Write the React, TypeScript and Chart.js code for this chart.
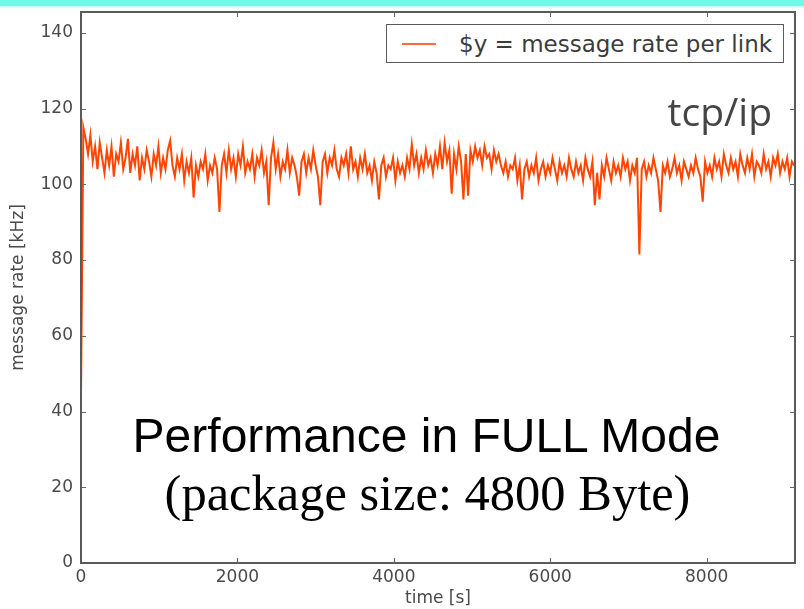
import React, { useEffect, useRef } from 'react';
import { Chart, registerables } from 'chart.js';

Chart.register(...registerables);

// sampling of the measured message rate
const SAMPLE_INTERVAL_S = 30;

// message rate per link [kHz], one value every SAMPLE_INTERVAL_S seconds from t = 0
const messageRate: number[] = [
  44, 115, 112, 108, 113, 106, 110, 104, 111, 107,
  103, 109, 105, 110, 102, 108, 106, 111, 104, 107,
  112, 103, 108, 105, 110, 101, 107, 104, 109, 106,
  102, 108, 105, 110, 103, 107, 104, 109, 111.5, 105,
  102, 107, 104, 108, 101, 106, 103, 107, 96.5, 105,
  102, 106, 104, 108, 101, 105, 103, 107, 104, 92.7,
  105, 108, 103, 109, 104, 107, 102, 108, 105, 110,
  103, 106, 104, 108, 102, 107, 105, 109, 103, 106,
  94.5, 107, 111, 104, 108, 102, 106, 104, 109, 103,
  107, 105, 102, 97, 106, 108, 103, 107, 104, 109,
  105, 102, 94.5, 106, 108, 103, 107, 105, 109, 104,
  102, 107, 105, 108, 103, 110, 104, 106, 102, 107,
  104, 108, 103, 105, 101, 106, 103, 96, 105, 107,
  102, 105, 104, 107, 101, 106, 103, 105, 102, 107,
  104, 110.5, 105, 108, 103, 107, 104, 109, 105, 107,
  103, 108, 105, 110, 104, 111, 106, 109, 97.5, 108,
  104, 110, 106, 96, 108, 97, 109, 106, 110, 107,
  109, 105, 110, 107, 108, 104, 109, 106, 108, 105,
  103, 106, 102, 105, 104, 107, 101, 105, 96, 104,
  106, 102, 105, 103, 107, 101, 104, 106, 102, 105,
  103, 107, 104, 101, 106, 103, 105, 102, 107, 104,
  102, 106, 103, 105, 101, 107, 104, 102, 106, 94.5,
  103, 96, 105, 102, 107, 104, 101, 106, 103, 105,
  102, 107, 104, 106, 101, 105, 103, 107, 81.5, 104,
  106, 102, 105, 103, 107, 104, 101, 92.7, 105, 103,
  106, 102, 104, 107, 103, 105, 101, 106, 104, 102,
  105, 103, 107, 104, 102, 95.4, 106, 103, 105, 102,
  107, 104, 106, 102, 108, 105, 103, 107, 104, 106,
  102, 108, 105, 103, 107, 104, 108, 102, 106, 105,
  103, 108, 104, 106, 102, 107, 105, 108, 103, 106,
  104, 107, 102, 106, 105,
];

const X_MAX = 9130;
const Y_MAX = 145.5;
const xTickValues = [0, 2000, 4000, 6000, 8000];
const yTickValues = [0, 20, 40, 60, 80, 100, 120, 140];

const seriesLabel = '$y = message rate per link';
const xTitle = 'time [s]';
const yTitle = 'message rate [kHz]';

const framePlugin = {
  id: 'frame',
  afterDatasetsDraw(chart: any) {
    const { ctx, chartArea, scales } = chart;
    const { left, right, top, bottom } = chartArea;
    const x = scales.x;
    const y = scales.y;
    ctx.save();
    ctx.strokeStyle = '#666';
    ctx.lineWidth = 1;
    ctx.beginPath();
    x.ticks.forEach((t: any) => {
      const px = Math.round(x.getPixelForValue(t.value)) + 0.5;
      ctx.moveTo(px, bottom);
      ctx.lineTo(px, bottom - 5);
      ctx.moveTo(px, top);
      ctx.lineTo(px, top + 5);
    });
    y.ticks.forEach((t: any) => {
      const py = Math.round(y.getPixelForValue(t.value)) + 0.5;
      ctx.moveTo(left, py);
      ctx.lineTo(left + 5, py);
      ctx.moveTo(right, py);
      ctx.lineTo(right - 5, py);
    });
    ctx.stroke();
    ctx.strokeStyle = '#5a5a5a';
    ctx.lineWidth = 2;
    ctx.strokeRect(left, top, right - left, bottom - top);
    ctx.restore();
  },
};

export default function App() {
  const canvasRef = useRef<HTMLCanvasElement | null>(null);

  useEffect(() => {
    if (!canvasRef.current) return;
    const data = messageRate.map((v, i) => ({ x: i * SAMPLE_INTERVAL_S, y: v }));
    const tickFont = { family: 'DejaVu Sans', size: 17 };
    const chart = new Chart(canvasRef.current, {
      type: 'line',
      data: {
        datasets: [
          {
            label: seriesLabel,
            data,
            borderColor: '#ff4500',
            borderWidth: 2,
            pointRadius: 0,
            tension: 0,
          },
        ],
      },
      options: {
        animation: false,
        responsive: true,
        maintainAspectRatio: false,
        layout: { padding: { top: 12, right: 9, left: 8, bottom: 0 } },
        plugins: { legend: { display: false }, tooltip: { enabled: false } },
        scales: {
          x: {
            type: 'linear',
            min: 0,
            max: X_MAX,
            grid: { display: false, drawTicks: false },
            border: { display: false },
            afterBuildTicks(scale: any) {
              scale.ticks = xTickValues.map((v) => ({ value: v }));
            },
            ticks: {
              color: '#4a4a4a',
              font: tickFont,
              padding: 4,
              maxRotation: 0,
              autoSkip: false,
              callback: (v: any) => String(v),
            },
            title: {
              display: true,
              text: xTitle,
              color: '#4a4a4a',
              font: tickFont,
              padding: { top: 3, bottom: 0 },
            },
            afterFit(scale: any) {
              scale.height = 46;
              scale.paddingLeft = 0;
              scale.paddingRight = 0;
            },
          },
          y: {
            type: 'linear',
            min: 0,
            max: Y_MAX,
            grid: { display: false, drawTicks: false },
            border: { display: false },
            afterBuildTicks(scale: any) {
              scale.ticks = yTickValues.map((v) => ({ value: v }));
            },
            ticks: {
              color: '#4a4a4a',
              font: tickFont,
              padding: 8,
              autoSkip: false,
              callback: (v: any) => String(v),
            },
            title: {
              display: true,
              text: yTitle,
              color: '#4a4a4a',
              font: tickFont,
              padding: { top: 0, bottom: 4 },
            },
            afterFit(scale: any) {
              scale.width = 73;
              scale.paddingTop = 0;
              scale.paddingBottom = 0;
            },
          },
        },
      },
      plugins: [framePlugin],
    });
    return () => chart.destroy();
  }, []);

  return (
    <div style={{ position: 'fixed', left: 0, top: 0, width: 804, height: 609, background: '#fff', overflow: 'hidden' }}>
      <canvas ref={canvasRef} style={{ position: 'absolute', left: 0, top: 0 }} />
      <div style={{ position: 'absolute', left: 0, top: 0, width: 804, height: 6, background: '#76f7e6' }} />
      <div style={{ position: 'absolute', left: 0, top: 6, width: 804, height: 3, background: 'linear-gradient(#b6fbf2, #ffffff)' }} />
      <div
        style={{
          position: 'absolute', left: 386, top: 24, width: 398, height: 39,
          border: '1.5px solid #5a5a5a', background: '#fff', boxSizing: 'border-box',
          display: 'flex', alignItems: 'center',
        }}
      >
        <div style={{ marginLeft: 15, width: 34, height: 2, background: '#ff6a3a' }} />
        <span style={{ marginLeft: 23, fontFamily: 'DejaVu Sans', fontSize: 23, color: '#3c3c3c', whiteSpace: 'nowrap' }}>
          {seriesLabel}
        </span>
      </div>
      <div style={{ position: 'absolute', right: 32, top: 91, fontFamily: '"Open Sans"', fontSize: 39, color: '#444', lineHeight: 1 }}>
        tcp/ip
      </div>
      <div style={{ position: 'absolute', left: 0, width: 853, top: 412, textAlign: 'center', fontFamily: '"Liberation Sans"', fontSize: 48, color: '#000', lineHeight: 1, whiteSpace: 'nowrap' }}>
        Performance in FULL Mode
      </div>
      <div style={{ position: 'absolute', left: 0, width: 855, top: 468, textAlign: 'center', fontFamily: '"Liberation Serif"', fontSize: 50.5, color: '#000', lineHeight: 1, whiteSpace: 'nowrap' }}>
        (package size: 4800 Byte)
      </div>
    </div>
  );
}
